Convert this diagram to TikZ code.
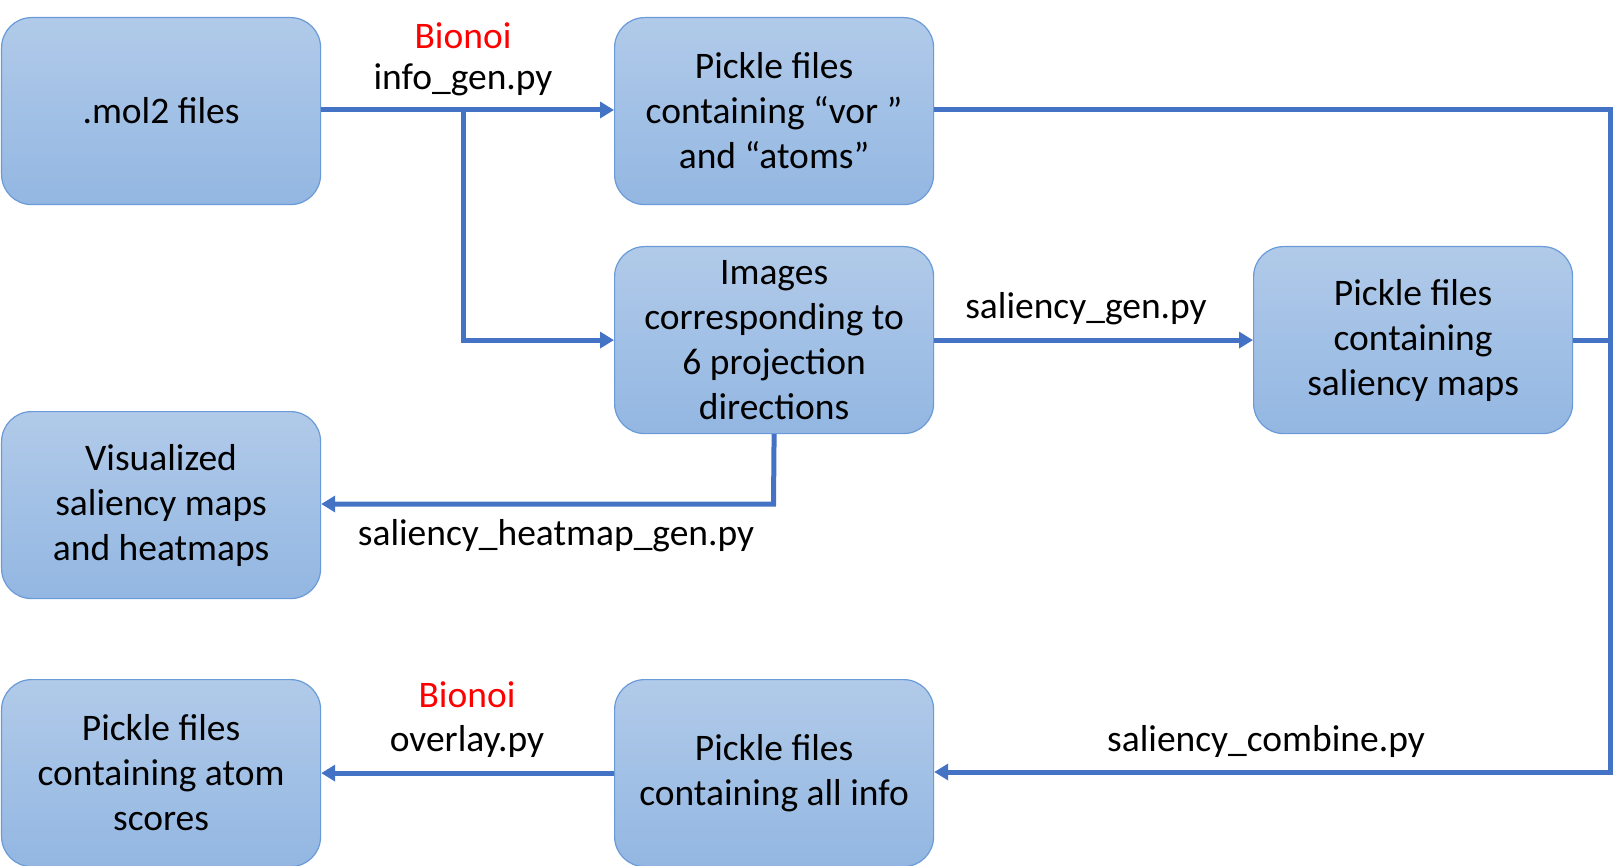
\documentclass[tikz,border=0pt]{standalone}
\usepackage{fontspec}
\setmainfont{Carlito}
\usetikzlibrary{arrows.meta}
\definecolor{boxtop}{HTML}{B1CAE9}
\definecolor{boxbot}{HTML}{93B7E2}
\definecolor{boxline}{HTML}{6A9BD8}
\definecolor{arr}{HTML}{4472C4}
\begin{document}
\begin{tikzpicture}[x=1pt,y=-1pt,
  every node/.style={font=\fontsize{37.5}{45}\selectfont},
  proc/.style={draw=boxline,line width=1.2pt,rounded corners=30pt,top color=boxtop,bottom color=boxbot,
    minimum width=319pt,minimum height=187pt,anchor=north west,align=center,inner sep=0pt},
  conn/.style={draw=arr,line width=5pt},
  arrw/.style={conn,-{Triangle[length=14pt,width=16pt]}},
  lbl/.style={inner sep=0pt,align=center}]
\useasboundingbox (0,0) rectangle (1613,866);
\node[proc] (mol) at (1,17) {.mol2 files};
\node[proc] (vor) at (614,17) {Pickle files\\containing “vor ”\\and “atoms”};
\node[proc] (img) at (614,246) {Images\\corresponding to\\6 projection\\directions};
\node[proc] (sal) at (1253,246) {Pickle files\\containing\\saliency maps};
\node[proc] (vis) at (1,411) {Visualized\\saliency maps\\and heatmaps};
\node[proc] (atom) at (1,679) {Pickle files\\containing atom\\scores};
\node[proc] (all) at (614,679) {Pickle files\\containing all info};
\coordinate (br) at (463,110);
\coordinate (rt) at (1610,110);
\coordinate (rb) at (1610,772);
\coordinate (hm) at (773.5,504);
\draw[arrw] (mol.east |- br) -- (vor.west |- br);
\draw[arrw] (br) |- (img.west);
\draw[arrw] (img.east) -- (sal.west);
\draw[conn] (sal.east) -- (sal.east -| rt);
\draw[arrw] (vor.east |- rt) -- (rt) -- (rb) -- (all.east |- rb);
\draw[arrw] (img.south) -- (hm) -- (vis.east |- hm);
\draw[arrw] (all.west) -- (atom.east);
\node[lbl,text=red] (b1) at (463,36) {Bionoi};
\node[lbl] (l1) at (463,80) {info\_gen.py};
\node[lbl] (l2) at (1086,309) {saliency\_gen.py};
\node[lbl] (l3) at (556,536) {saliency\_heatmap\_gen.py};
\node[lbl,text=red] (b2) at (467,695) {Bionoi};
\node[lbl] (l4) at (467,741) {overlay.py};
\node[lbl] (l5) at (1266,741) {saliency\_combine.py};
\end{tikzpicture}
\end{document}
